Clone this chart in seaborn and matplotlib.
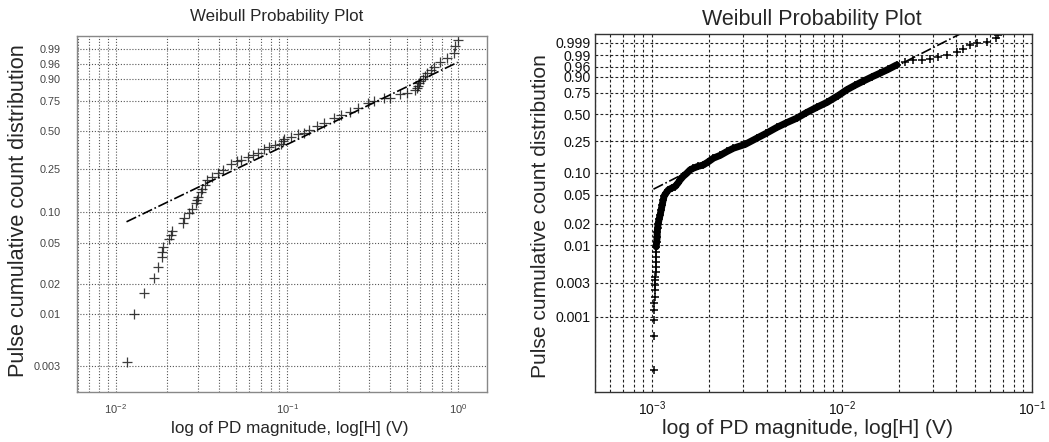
import numpy as np
import matplotlib
matplotlib.use('Agg')
import matplotlib.pyplot as plt
from matplotlib.ticker import NullFormatter, NullLocator
import seaborn as sns

# left panel: PD magnitude (V) and cumulative probability
left_h = np.array([0.01154, 0.0128, 0.01462, 0.0167, 0.01766, 0.01854, 0.01854, 0.01888, 0.02046, 0.02093,
                   0.0214, 0.0247, 0.0250, 0.0268, 0.0280, 0.0293, 0.0298, 0.0303, 0.0313, 0.0320,
                   0.0330, 0.0342, 0.0365, 0.0394, 0.0420, 0.0469, 0.0510, 0.0536, 0.0588, 0.0630,
                   0.0672, 0.0730, 0.0780, 0.0850, 0.0920, 0.0940, 0.0955, 0.1050, 0.1150, 0.1250,
                   0.1350, 0.1500, 0.1650, 0.1870, 0.2050, 0.2340, 0.2600, 0.2950, 0.3210, 0.3660,
                   0.4010, 0.4590, 0.5000, 0.5600, 0.5700, 0.5800, 0.5900, 0.6000, 0.6200, 0.6400,
                   0.6560, 0.6900, 0.7180, 0.7850, 0.8590, 0.9480, 0.9610, 0.9900])
left_p = np.array([0.0033, 0.0099, 0.0162, 0.0228, 0.0294, 0.0364, 0.0413, 0.0457, 0.0547, 0.0603,
                   0.066, 0.0792, 0.0874, 0.0977, 0.107, 0.122, 0.131, 0.140, 0.155, 0.165,
                   0.178, 0.199, 0.212, 0.229, 0.245, 0.275, 0.290, 0.300, 0.314, 0.325,
                   0.340, 0.365, 0.380, 0.395, 0.400, 0.420, 0.440, 0.455, 0.472, 0.485,
                   0.505, 0.540, 0.565, 0.605, 0.630, 0.655, 0.690, 0.730, 0.745, 0.770,
                   0.775, 0.800, 0.812, 0.830, 0.845, 0.860, 0.875, 0.890, 0.900, 0.915,
                   0.927, 0.940, 0.953, 0.967, 0.976, 0.985, 0.993, 0.9965])
left_fit_h = [0.01154, 0.99]
left_fit_p = [0.081, 0.966]

# right panel
right_h = np.array([0.001028, 0.001028, 0.001028, 0.001028, 0.001028, 0.001031, 0.001031, 0.001037,
                    0.001037, 0.001037, 0.001043, 0.001043, 0.001043, 0.001050, 0.001050, 0.001050,
                    0.001056, 0.001063, 0.001063, 0.001069, 0.001075, 0.001089, 0.001102, 0.001115,
                    0.001129, 0.001143, 0.001157, 0.001185, 0.001218, 0.001274, 0.001321, 0.001370,
                    0.001404, 0.001456, 0.001523, 0.001585, 0.001650, 0.001746, 0.001862, 0.001971,
                    0.002102, 0.002280, 0.002481, 0.002679, 0.003087, 0.003556, 0.003981, 0.004532,
                    0.005074, 0.005774, 0.006464, 0.007359, 0.008338, 0.009561, 0.01058, 0.01170,
                    0.01306, 0.01438, 0.01585, 0.01746, 0.01941, 0.02146, 0.02373, 0.02637,
                    0.02905, 0.03201, 0.03557, 0.04015, 0.04334, 0.04717, 0.05116, 0.05774,
                    0.06464, 0.06646])
right_p = np.array([0.000181, 0.000542, 0.00091, 0.00125, 0.00156, 0.00193, 0.00239, 0.00281,
                    0.0033, 0.00367, 0.00428, 0.00503, 0.00591, 0.00694, 0.00815, 0.00957,
                    0.0112, 0.0131, 0.0154, 0.0175, 0.0199, 0.0234, 0.0266, 0.0311,
                    0.0365, 0.0427, 0.0484, 0.0532, 0.0585, 0.0622, 0.0649, 0.0728,
                    0.0799, 0.0889, 0.0982, 0.1086, 0.1144, 0.1208, 0.1262, 0.1380,
                    0.1545, 0.1676, 0.1881, 0.2064, 0.2302, 0.2731, 0.3113, 0.3635,
                    0.4068, 0.4557, 0.5148, 0.5790, 0.6375, 0.7178, 0.7813, 0.8281,
                    0.8700, 0.9009, 0.9260, 0.9470, 0.9666, 0.9763, 0.9815, 0.9820,
                    0.9831, 0.9867, 0.9910, 0.9946, 0.9966, 0.9985, 0.9990, 0.9991,
                    0.99968, 0.99986])
right_fit_h = [0.001016, 0.0418]
right_fit_p = [0.0598, 0.9999]

left_yticks = [0.003, 0.01, 0.02, 0.05, 0.10, 0.25, 0.50, 0.75, 0.90, 0.96, 0.99]
left_ylabels = ['0.003', '0.01', '0.02', '0.05', '0.10', '0.25', '0.50', '0.75', '0.90', '0.96', '0.99']
right_yticks = [0.001, 0.003, 0.01, 0.02, 0.05, 0.10, 0.25, 0.50, 0.75, 0.90, 0.96, 0.99, 0.999]
right_ylabels = ['0.001', '0.003', '0.01', '0.02', '0.05', '0.10', '0.25', '0.50', '0.75', '0.90',
                 '0.96', '0.99', '0.999']


def weib(p):
    p = np.clip(p, 1e-12, 1 - 1e-12)
    return np.log(-np.log(1 - p))


def weib_inv(y):
    return 1 - np.exp(-np.exp(y))


sns.set_theme(style='white')
plt.rcParams['font.family'] = ['Liberation Sans', 'DejaVu Sans']
plt.rcParams['mathtext.default'] = 'regular'

fig = plt.figure(figsize=(10.49, 4.42), dpi=100)
ax1 = fig.add_axes([0.0734, 0.1131, 0.3909, 0.8055])
ax2 = fig.add_axes([0.5672, 0.1131, 0.4166, 0.81])

# left
sns.scatterplot(x=left_h, y=left_p, marker='+', color='#1a1a1a', s=60, linewidth=0.9, alpha=0.85, ax=ax1)
sns.lineplot(x=left_fit_h, y=left_fit_p, color='black', lw=1.2, linestyle='-.', sort=False,
             estimator=None, ax=ax1)

# right: dense band drawn as thick line plus markers
band = (right_p >= 0.0095) & (right_p <= 0.967)
sns.lineplot(x=right_h[band], y=right_p[band], color='black', lw=5, sort=False, estimator=None, ax=ax2)
sns.scatterplot(x=right_h, y=right_p, marker='+', color='black', s=40, linewidth=1.1, ax=ax2)
sns.lineplot(x=right_fit_h, y=right_fit_p, color='black', lw=1.2, linestyle='-.', sort=False,
             estimator=None, ax=ax2)

setup = [
    (ax1, (0.00593, 1.47), (weib_inv(-6.41), weib_inv(1.828)), left_yticks, left_ylabels, 7.8, 8, '#888888',
     (0, (1, 1.6)), '#555555', '#444444', 12, 7),
    (ax2, (5e-4, 0.1), (weib_inv(-9.33), weib_inv(2.22)), right_yticks, right_ylabels, 10.2, 10, '#333333',
     (0, (2.5, 2)), '#222222', '#111111', 3, 5),
]
for ax, xl, yl, yt, ylab, yfs, xfs, spc, gls, gcol, tcol, ypad, xpad in setup:
    ax.set_xscale('log')
    ax.set_yscale('function', functions=(weib, weib_inv))
    ax.set_xlim(*xl)
    ax.set_ylim(*yl)
    ax.set_yticks(yt)
    ax.set_yticklabels(ylab)
    ax.xaxis.set_minor_formatter(NullFormatter())
    ax.yaxis.set_minor_locator(NullLocator())
    ax.grid(True, which='both', axis='x', color=gcol, linestyle=gls, lw=0.8)
    ax.grid(True, which='major', axis='y', color=gcol, linestyle=gls, lw=0.8)
    ax.tick_params(axis='y', labelsize=yfs, labelcolor=tcol, length=0, pad=ypad)
    ax.tick_params(axis='x', which='major', labelsize=xfs, labelcolor=tcol, length=3, direction='in',
                   color=spc, pad=xpad)
    ax.tick_params(axis='x', which='minor', length=2, direction='in', color=spc)
    for s in ax.spines.values():
        s.set_color(spc)
        s.set_linewidth(1.0)
    ax.set_xlabel('')
    ax.set_ylabel('')

fig.text(277 / 1049, 1 - 17 / 442, 'Weibull Probability Plot', ha='center', va='center', fontsize=12.2)
fig.text(812 / 1049, 1 - 19 / 442, 'Weibull Probability Plot', ha='center', va='center', fontsize=15.5)
fig.text(290 / 1049, 1 - 433 / 442, 'log of PD magnitude, log[H] (V)', ha='center', va='baseline', fontsize=12.3)
fig.text(808 / 1049, 1 - 434 / 442, 'log of PD magnitude, log[H] (V)', ha='center', va='baseline', fontsize=15.1)
fig.text(19 / 1049, 1 - 210.5 / 442, 'Pulse cumulative count distribution', rotation=90, ha='center',
         va='center', fontsize=15.6)
fig.text(541 / 1049, 1 - 216.5 / 442, 'Pulse cumulative count distribution', rotation=90, ha='center',
         va='center', fontsize=15.1)

fig.savefig('out.png', dpi=100)
